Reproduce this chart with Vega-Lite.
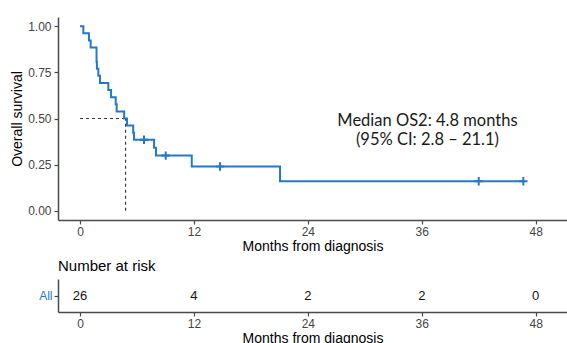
{
  "$schema": "https://vega.github.io/schema/vega-lite/v6.json",
  "padding": {"left": 10, "top": 17, "right": 0, "bottom": 0},
  "config": {
    "view": {"stroke": null},
    "font": "Liberation Sans",
    "axis": {
      "grid": false,
      "domainColor": "#4a4a4a",
      "domainWidth": 1.5,
      "tickColor": "#4a4a4a",
      "tickWidth": 1.2,
      "tickSize": 4,
      "labelColor": "#444444",
      "labelFontSize": 12,
      "labelFont": "Liberation Sans",
      "titleFont": "Liberation Sans",
      "titleFontWeight": "normal",
      "titleFontSize": 14,
      "titleColor": "#000000"
    },
    "concat": {"spacing": 6}
  },
  "datasets": {
    "km": [
      {"t": 0, "s": 1.0},
      {"t": 0.35, "s": 0.962},
      {"t": 0.94, "s": 0.923},
      {"t": 1.12, "s": 0.885},
      {"t": 1.74, "s": 0.808},
      {"t": 1.78, "s": 0.769},
      {"t": 1.93, "s": 0.731},
      {"t": 2.1, "s": 0.692},
      {"t": 2.98, "s": 0.654},
      {"t": 3.27, "s": 0.615},
      {"t": 3.76, "s": 0.577},
      {"t": 3.86, "s": 0.538},
      {"t": 4.65, "s": 0.5},
      {"t": 4.95, "s": 0.462},
      {"t": 5.6, "s": 0.423},
      {"t": 5.69, "s": 0.385},
      {"t": 7.8, "s": 0.342},
      {"t": 8.0, "s": 0.299},
      {"t": 11.77, "s": 0.24},
      {"t": 21.07, "s": 0.16},
      {"t": 46.7, "s": 0.16}
    ],
    "censor": [
      {"t": 6.74, "s": 0.385},
      {"t": 9.03, "s": 0.299},
      {"t": 14.75, "s": 0.24},
      {"t": 42.0, "s": 0.16},
      {"t": 46.7, "s": 0.16}
    ],
    "median": [{"start": 0, "median": 4.8, "survival": 0.5, "floor": 0}],
    "note": [{"label": ["Median OS2: 4.8 months", "(95% CI: 2.8 – 21.1)"], "t": 36.6, "s": 0.486}],
    "risk": [
      {"t": 0, "n": 26, "group": "All"},
      {"t": 12, "n": 4, "group": "All"},
      {"t": 24, "n": 2, "group": "All"},
      {"t": 36, "n": 2, "group": "All"},
      {"t": 48, "n": 0, "group": "All"}
    ]
  },
  "vconcat": [
    {
      "width": 509,
      "height": 203,
      "encoding": {
        "x": {"type": "quantitative", "scale": {"domain": [-2.32, 51.3], "nice": false, "zero": false},
          "axis": {"values": [0, 12, 24, 36, 48], "title": "Months from diagnosis", "labelPadding": 2, "titlePadding": 2}},
        "y": {"type": "quantitative", "scale": {"domain": [-0.05, 1.05], "nice": false, "zero": false},
          "axis": {"values": [0, 0.25, 0.5, 0.75, 1], "format": ".2f", "title": "Overall survival", "labelPadding": 3, "titlePadding": 3}}
      },
      "layer": [
        {
          "data": {"name": "median"},
          "mark": {"type": "rule", "strokeDash": [3, 3], "color": "#333333", "strokeWidth": 1.1},
          "encoding": {
            "x": {"field": "start", "type": "quantitative"},
            "x2": {"field": "median"},
            "y": {"field": "survival", "type": "quantitative"}
          }
        },
        {
          "data": {"name": "median"},
          "mark": {"type": "rule", "strokeDash": [3, 3], "color": "#333333", "strokeWidth": 1.1},
          "encoding": {
            "x": {"field": "median", "type": "quantitative"},
            "y": {"field": "floor", "type": "quantitative"},
            "y2": {"field": "survival"}
          }
        },
        {
          "data": {"name": "km"},
          "mark": {"type": "line", "interpolate": "step-after", "color": "#2478cc", "strokeWidth": 2},
          "encoding": {
            "x": {"field": "t", "type": "quantitative"},
            "y": {"field": "s", "type": "quantitative"}
          }
        },
        {
          "data": {"name": "censor"},
          "mark": {"type": "point", "shape": "M-1,0L1,0M0,-1L0,1", "size": 70, "strokeWidth": 2, "color": "#2478cc", "filled": false, "opacity": 1},
          "encoding": {
            "x": {"field": "t", "type": "quantitative"},
            "y": {"field": "s", "type": "quantitative"}
          }
        },
        {
          "data": {"name": "note"},
          "mark": {"type": "text", "font": "Lato", "fontSize": 16.5, "color": "#1a1a1a", "align": "center", "baseline": "middle", "lineHeight": 19},
          "encoding": {
            "x": {"field": "t", "type": "quantitative"},
            "y": {"field": "s", "type": "quantitative"},
            "text": {"field": "label"}
          }
        }
      ]
    },
    {
      "width": 509,
      "height": 33,
      "title": {"text": "Number at risk", "anchor": "start", "frame": "group", "fontSize": 15, "fontWeight": "normal", "font": "Liberation Sans", "color": "#000000", "offset": 5},
      "data": {"name": "risk"},
      "mark": {"type": "text", "fontSize": 13, "color": "#111111", "baseline": "middle"},
      "encoding": {
        "x": {"field": "t", "type": "quantitative", "scale": {"domain": [-2.32, 51.3], "nice": false, "zero": false},
          "axis": {"values": [0, 12, 24, 36, 48], "title": "Months from diagnosis", "labelPadding": 2, "titlePadding": 2}},
        "y": {"field": "group", "type": "nominal", "axis": {"title": null, "labelColor": "#2478cc", "labelPadding": 2, "domain": true, "ticks": true}},
        "text": {"field": "n"}
      }
    }
  ]
}
